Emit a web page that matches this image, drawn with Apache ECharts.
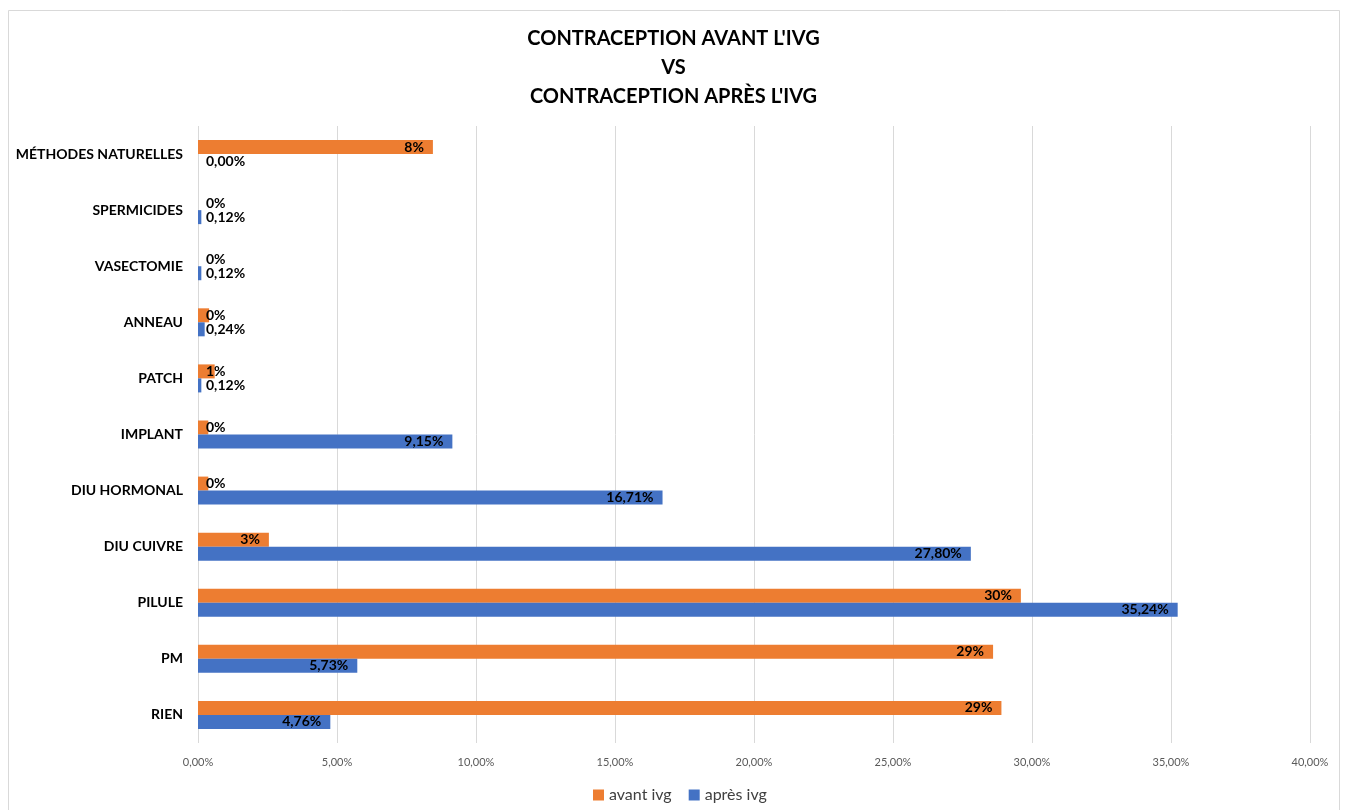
<!DOCTYPE html>
<html>
<head>
<meta charset="utf-8">
<script src="https://cdn.jsdelivr.net/npm/echarts@6/dist/echarts.min.js"></script>
<style>
html,body{margin:0;padding:0;background:#fff;}
#chart{width:1347px;height:810px;}
</style>
</head>
<body>
<div id="chart"></div>
<script>
const categories = ["MÉTHODES NATURELLES","SPERMICIDES","VASECTOMIE","ANNEAU","PATCH","IMPLANT","DIU HORMONAL","DIU CUIVRE","PILULE","PM","RIEN"];
const avantIvg = [8.45, 0, 0, 0.4, 0.6, 0.37, 0.37, 2.55, 29.6, 28.6, 28.9];
const apresIvg = [0.00, 0.12, 0.12, 0.24, 0.12, 9.15, 16.71, 27.80, 35.24, 5.73, 4.76];
const seriesNames = ["avant ivg", "après ivg"];
const xTicks = {min: 0, max: 40, interval: 5};

const FONT = 'Lato, "Open Sans", sans-serif';
const SMALL = 1.5;

function items(arr) {
  return arr.map(v => ({
    value: v,
    label: v < SMALL ? {position: 'insideLeft', distance: 8} : {position: 'insideRight', distance: 9}
  }));
}
function fmtComma(v, d) { return v.toFixed(d).replace('.', ',') + '%'; }

const chart = echarts.init(document.getElementById('chart'), null, {renderer: 'canvas'});
const labelStyle = {show: true, color: '#000', fontWeight: 'bold', fontSize: 14, fontFamily: FONT};

chart.setOption({
  backgroundColor: '#fff',
  textStyle: {fontFamily: FONT},
  animation: false,
  graphic: [{
    type: 'rect', z: -10, silent: true,
    shape: {x: 8.5, y: 10.5, width: 1331, height: 820},
    style: {fill: 'none', stroke: '#d9d9d9', lineWidth: 1}
  }],
  title: {
    text: "CONTRACEPTION AVANT L'IVG\nVS\nCONTRACEPTION APRÈS L'IVG",
    left: 'center', top: 19,
    textStyle: {fontSize: 20, fontWeight: 'bold', color: '#000', lineHeight: 29, fontFamily: FONT, align: 'center'}
  },
  legend: {
    data: seriesNames,
    left: 588, top: 782,
    icon: 'rect', itemWidth: 11, itemHeight: 11, itemGap: 17,
    textStyle: {fontSize: 16, color: '#404040', fontFamily: FONT}
  },
  grid: {left: 198, right: 37, top: 126, bottom: 67, containLabel: false},
  xAxis: {
    type: 'value', min: xTicks.min, max: xTicks.max, interval: xTicks.interval,
    axisLine: {show: false}, axisTick: {show: false},
    splitLine: {show: true, lineStyle: {color: '#d9d9d9', width: 1}},
    axisLabel: {color: '#595959', fontSize: 11, margin: 14, fontFamily: FONT,
      formatter: v => fmtComma(v, 2)}
  },
  yAxis: {
    type: 'category', data: categories, inverse: true,
    axisLine: {show: false}, axisTick: {show: false},
    axisLabel: {color: '#000', fontWeight: 'bold', fontSize: 14, margin: 15, fontFamily: FONT}
  },
  series: [
    {
      name: seriesNames[0], type: 'bar', data: items(avantIvg),
      itemStyle: {color: '#ED7D31'}, barWidth: 14, barGap: '0%',
      label: Object.assign({}, labelStyle, {formatter: p => Math.round(p.value) + '%'})
    },
    {
      name: seriesNames[1], type: 'bar', data: items(apresIvg),
      itemStyle: {color: '#4472C4'}, barWidth: 14, barGap: '0%',
      label: Object.assign({}, labelStyle, {formatter: p => fmtComma(p.value, 2)})
    }
  ]
});
</script>
</body>
</html>
